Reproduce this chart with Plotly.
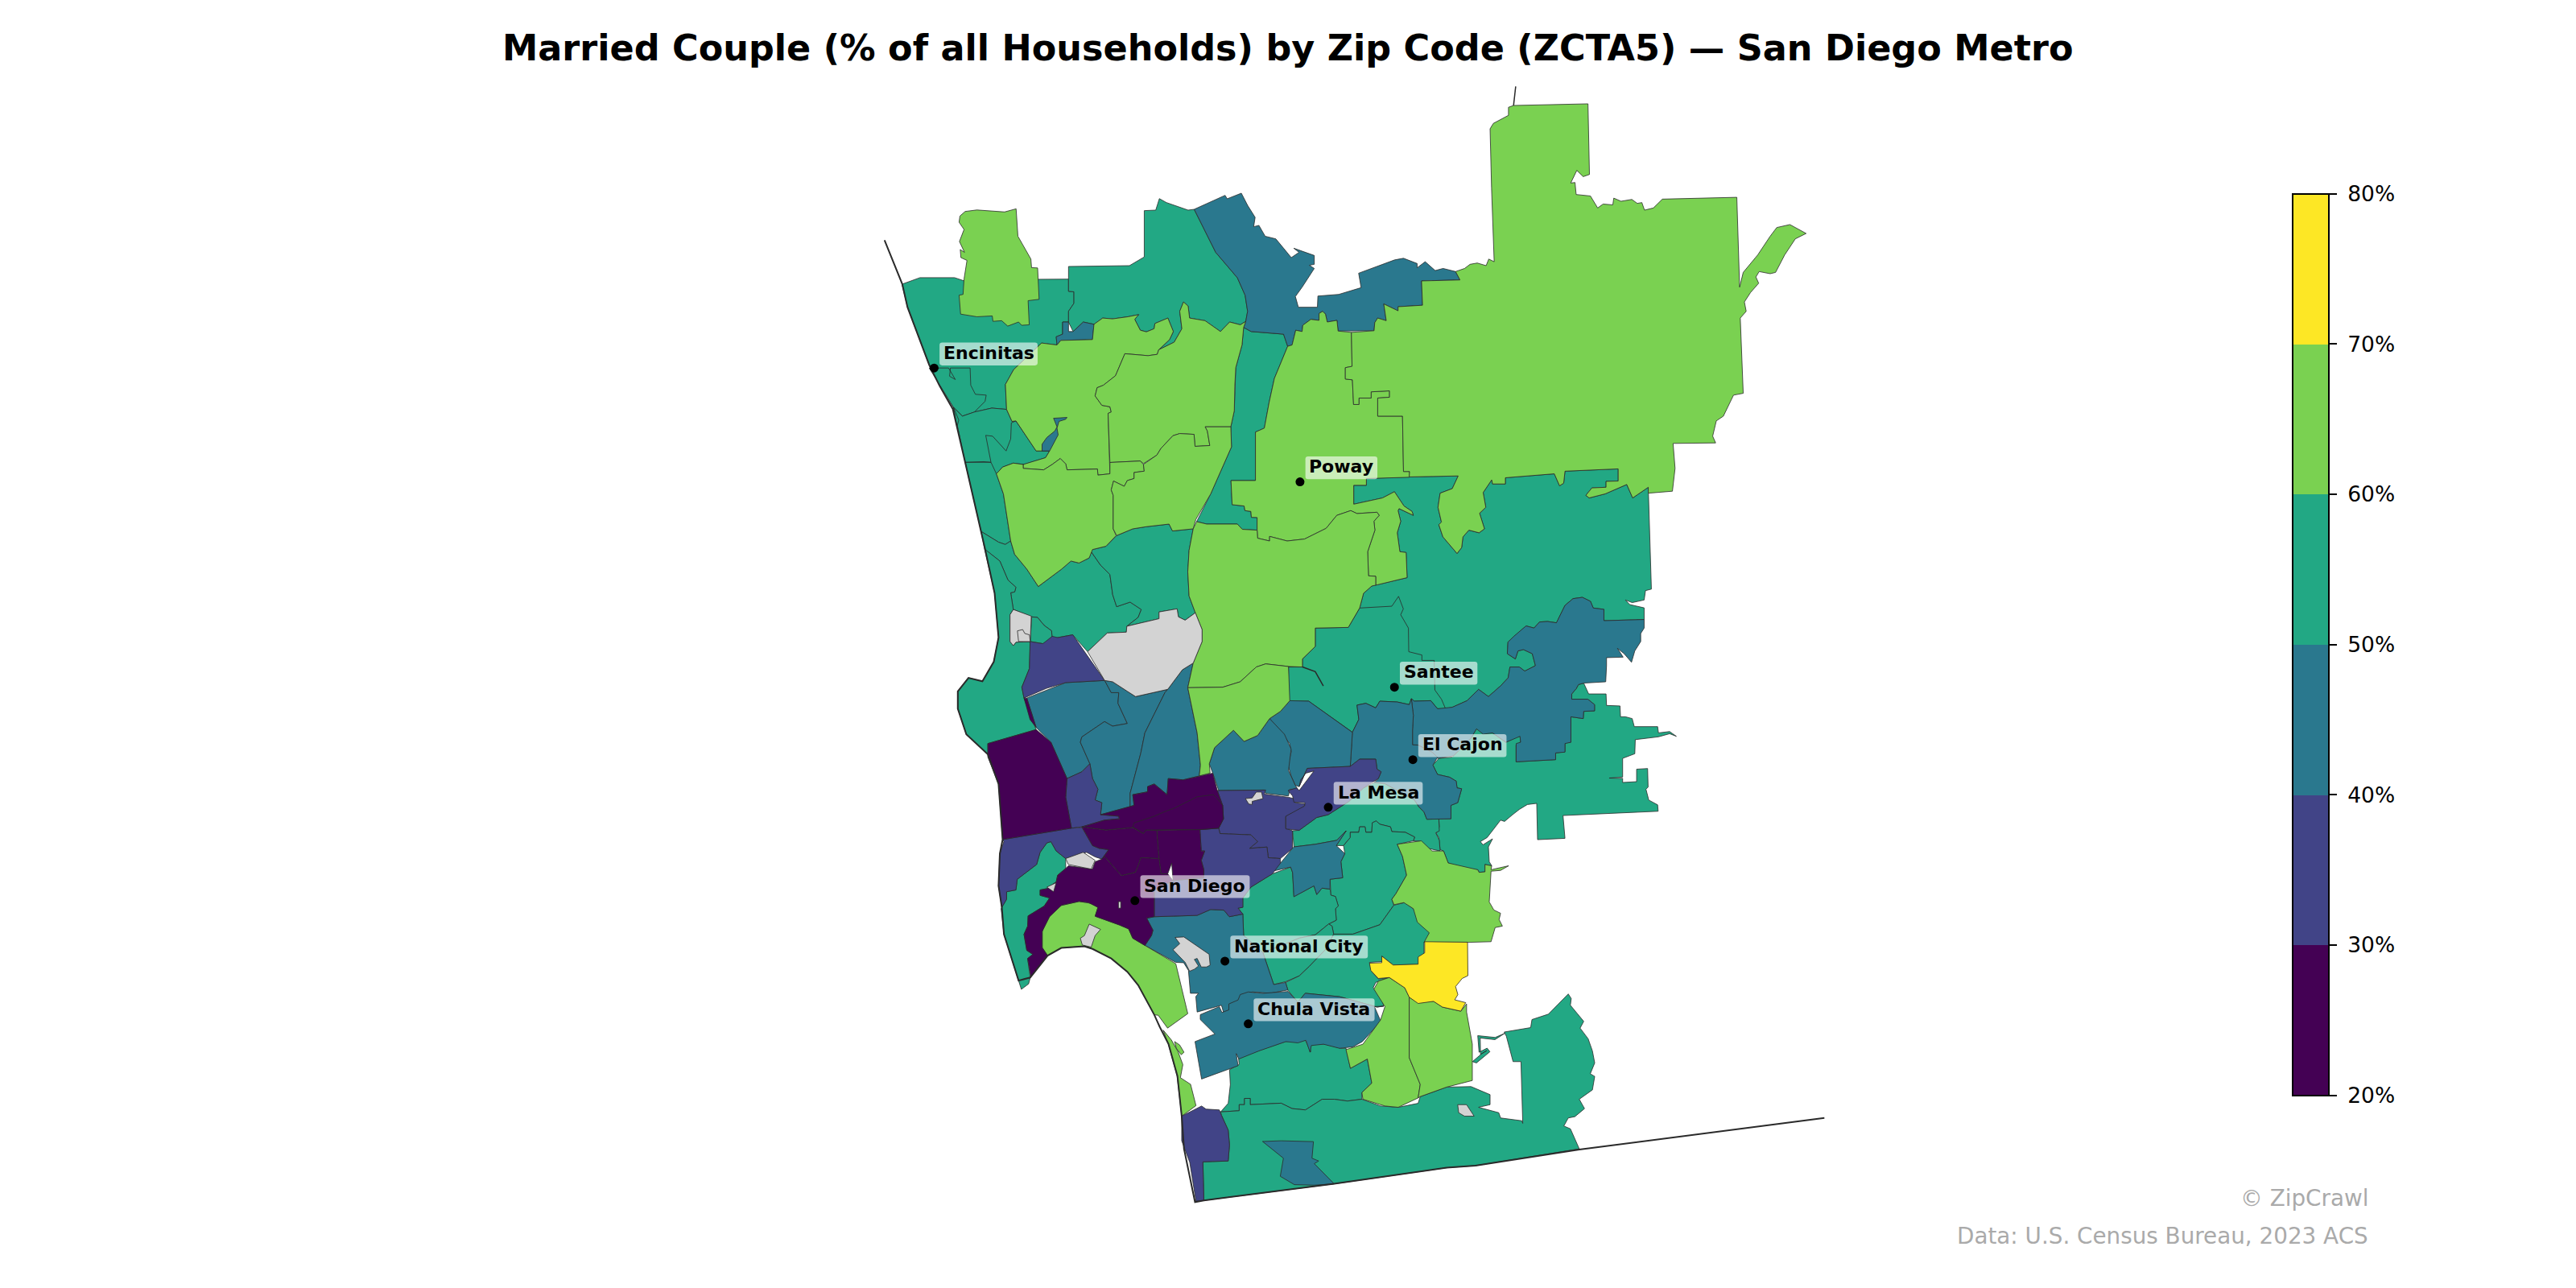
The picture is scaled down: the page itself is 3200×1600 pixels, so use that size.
import plotly.graph_objects as go

# map units: 1568 x 784 picture grid, y grows downward
title = 'Married Couple (% of all Households) by Zip Code (ZCTA5) — San Diego Metro'
credit_lines = ['© ZipCrawl', 'Data: U.S. Census Bureau, 2023 ACS']
tick_values = [20, 30, 40, 50, 60, 70, 80]
bin_colors = ['#440154', '#414487', '#2a788e', '#22a884', '#7ad151', '#fde725']
missing_color = '#d3d3d3'

city_names = ['Encinitas', 'Poway', 'Santee', 'El Cajon', 'La Mesa', 'San Diego', 'National City', 'Chula Vista']
city_x = [568.6, 791.3, 848.8, 860, 808.5, 690.8, 745.6, 759.8]
city_y = [224, 293.3, 418.3, 462.4, 491.4, 548.2, 585, 623.2]
city_label_w = [59.7, 43.8, 47.2, 53.7, 54.2, 66.6, 83.7, 73.6]

coast_line = [(538.4,146.2),(546.8,166.6),(549.2,172.9),(552.4,187),(565.6,222.2),(572,235),(580,249),(587.4,281),(597.2,323.5),(599.6,334.2),(605.4,361),(607.8,388),(604.9,402.8),(598,414.7),(589.5,412.6),(583,420.8),(583,431.4),(588.2,447),(601.3,459.2),(607.8,477.2),(610.3,511),(608.6,519.6),(607.8,539.2),(609.8,552.3),(611.1,568.7),(620,596.9),(627.1,595),(637.7,581.7),(646,577),(660,576),(665,577.6),(676.4,583.4),(686.2,591.5),(692.8,599.7),(702.6,617.7),(705.9,625),(711.3,635.6),(716.7,655),(719.3,679.4),(720.7,699.3),(727.4,731.7),(732.8,730.7),(812.1,720.6),(880.6,710.8),(898.1,709.5),(961.3,699.7),(1110.5,680.5)]
north_spike = [(921.3,64.2),(922.6,52.6)]
stray_line = [(792.8,406),(800.6,408.8),(805.5,417.5)]

north_coast = [(549,173),(560,169),(581,169),(587,171),(632,170),(650.4,169.9),(650.4,177.3),(653.7,177.6),(653.7,184.6),(650.4,189.5),(650.4,196),(646.8,196),(646.8,203.4),(642.9,205),(643.4,210),(634,208.8),(617,225),(612,234),(612.7,249.2),(603.7,248.4),(593.1,250.8),(585.8,253.3),(580.4,248),(565.6,222.2),(552.4,187)]
encinitas = [(565.6,224),(577.4,224),(581.5,231),(578,229),(578.5,224),(590.5,224),(590.9,234.5),(593.7,240),(600.3,240.5),(599.6,244.3),(593.1,250.8),(585.8,253.3),(580.4,248)]
cardiff = [(580.4,248),(585.8,253.3),(593.1,250.8),(603.7,248.4),(612.7,249.2),(616,256.5),(618.4,256.2),(630.7,274.5),(638.9,274.5),(636.4,278.6),(623.3,282.7),(616.8,281.9),(610.3,284.3),(606.5,288.4),(610.8,300.7),(615.2,329.3),(611.9,331.4),(607.8,330),(597.2,323.5),(587.4,281)]
lagoon = [(600,265),(604.2,265.5),(612.4,274.5),(615.2,267.2),(615.6,257.4),(618.4,256.2),(630.7,274.5),(638.9,274.5),(636.4,278.6),(623.3,282.7),(616.8,281.9),(610.3,284.3),(606.5,288.4),(603.2,281.4),(587.4,281.4),(598.8,281),(603.2,281.4)]
beach_sliver = [(580.4,248),(583.6,255.7),(582.5,259.8)]
carmel = [(597.2,323.5),(607.8,330),(611.9,331.4),(615.2,329.3),(617.6,337.4),(625,346.4),(632,357),(646.2,346.4),(651.9,341.5),(656.8,342.7),(663,339.6),(664.2,335.8),(669.9,344),(675.6,349.7),(677.3,362),(679.7,369.3),(687.9,366.5),(694.7,371),(692.8,375.8),(685.9,381.2),(685.6,384.8),(674,385.3),(662,396.7),(653,386.4),(643.8,388.1),(640.5,389.7),(640.1,384),(635.6,380.7),(631.5,375.8),(628.2,375.5),(616.8,371),(615.2,360.8),(617.6,360.3),(618.4,357.5),(613.5,353),(608.6,341.5),(599.3,334.2)]
torrey = [(599.3,334.2),(608.6,341.5),(613.5,353),(618.4,357.5),(617.6,360.3),(615.2,360.8),(616.8,371),(614.8,374.2),(614.8,390.5),(616.8,393),(618.4,390.9),(627.1,390.5),(626.6,406.9),(622,418.3),(623.3,424.9),(630.7,444.1),(601.3,452.6),(601.3,459.2),(588.2,447),(583,431.4),(583,420.8),(589.5,412.6),(598,414.7),(604.9,402.8),(607.8,388),(605.4,361)]
sorrento_bit = [(628,375.5),(631.5,375.8),(635.6,380.7),(640.1,384),(640.5,389.7),(634.8,391.8),(627.1,390.5)]
penasquitos = [(664.2,335.8),(665,334.5),(673.2,332.5),(679.7,326),(689.5,321.9),(697.7,320.6),(711.6,319),(713.7,323.2),(726.3,321.9),(723.8,335),(723,348),(723.8,362.8),(727.6,373),(721.4,377.5),(717.3,375.5),(716.5,370.6),(705.5,372.5),(705.5,376.6),(685.9,381.2),(692.8,375.8),(694.7,371),(687.9,366.5),(679.7,369.3),(677.3,362),(675.6,349.7),(669.9,344)]
pala = [(650.4,162.2),(687.5,161.7),(696.5,156.4),(696.5,128.2),(703.5,127.9),(705.7,120.9),(710,123.3),(723.2,127.9),(726.9,127.4),(740,153.6),(753.2,169.1),(757.9,179.7),(759.4,189.5),(758.3,195.6),(755,197.7),(748.5,196),(742.9,201.8),(733.5,195.2),(724.1,193.6),(723.2,186.3),(720.4,183.8),(718.1,189.5),(719.4,200.1),(714.7,208.3),(705.3,212.9),(711.9,206.7),(714.2,201.8),(711.9,196),(710.9,193.6),(703,196.9),(702.5,200.1),(697.8,202),(694.1,201),(690.7,194.4),(693.1,191.5),(686.6,192.8),(677.2,194.1),(671.2,193.6),(665.9,197.4),(659.4,196),(653.2,201.8),(650.4,196),(650.4,189.5),(653.7,184.6),(653.7,177.6),(650.4,177.3)]
valley_strip = [(757,199.3),(761.6,201.8),(781.3,203.4),(783.8,210.8),(775.7,230.4),(772.5,245),(769.6,260.6),(764.2,263),(764.2,292.5),(749.3,292.5),(750,307.2),(757.3,308),(757.8,310.8),(761.4,311.3),(761.7,314.9),(765.2,315),(765.2,322.7),(756.2,322.2),(753.2,319),(734.5,319),(728.4,317.5),(736.9,300.7),(749.6,272),(749.2,259.8),(751.3,250),(751.6,235.3),(752.2,223.8),(756,210)]
ramona = [(824,295.4),(831.7,295.4),(831.7,291.3),(857.8,290.3),(887.6,289.7),(884,297.4),(876.6,300.2),(875.3,308.8),(877.4,317.8),(875.8,319.4),(878.3,326.8),(886.9,336.9),(889.7,333.3),(890.5,326.8),(894.1,322.7),(900.3,324.3),(903.6,321.9),(900.6,312.4),(904.4,308.8),(902.8,299.8),(908,292.1),(908.5,294.6),(916.3,294.6),(916.3,290.8),(946.1,288.4),(949.3,295.7),(951.8,294.1),(952.6,286.8),(985,285.4),(985,292.8),(977.6,293),(977.6,296.6),(969,297),(965.3,301.5),(967.3,303.1),(977.1,300.6),(990.2,294.9),(993.8,303.1),(1003.3,296.6),(1004.1,323.5),(1005.2,358.6),(1001.6,359.5),(1000.8,365.2),(993.5,366.8),(989.4,365.2),(992,368),(1000.8,370),(1000.8,377.1),(976.3,377.8),(976.3,370.9),(969.8,370.1),(968.1,366),(963.2,363.6),(957.5,364.4),(952.6,368.5),(947.4,379.1),(942,378.3),(937.1,378.6),(933.8,382.3),(928.9,381),(921.6,387.2),(917.9,390.8),(917.5,397.9),(922.4,401.1),(924,396.2),(927.3,395.4),(932.7,397.9),(934.6,405.2),(928.1,408.5),(924.8,406),(919.1,406),(918,412.6),(913.4,417.5),(906,424),(900,419.6),(893,426.5),(884,430.5),(879.9,431.4),(875,431.4),(870.9,426.5),(860.8,426.8),(859.1,425.3),(857.8,428.9),(850.5,427.3),(839.9,426.8),(837.4,430.9),(831.4,428.1),(826,429.2),(827.1,437.9),(823.2,445.7),(796.6,426.8),(784.3,426.8),(784.3,406),(792.8,406),(792.8,401.1),(800.6,393.5),(800.6,382.3),(820.7,381.9),(827.6,370.1),(830,361.1),(835,356.7),(856.5,351.6),(855.9,336.3),(852.1,335.8),(850.5,324.3),(852.6,317.3),(851,310.8),(851.6,309.6),(860.3,313.7),(859.5,311.3),(854.6,308),(848.8,299.3),(841.5,303.1),(824,306.9)]
santee = [(784.3,406),(792.8,406),(792.8,401.1),(800.6,393.5),(800.6,382.3),(820.7,381.9),(827.6,370.1),(847.2,369),(851.3,363),(854.2,370.6),(852.6,374.2),(857.3,382.3),(857.5,396.7),(865.5,398.7),(865.5,402),(873,402),(873.4,420),(877.4,425.6),(879.9,431.4),(875,431.4),(870.9,426.5),(860.8,426.8),(859.1,425.3),(857.8,428.9),(850.5,427.3),(839.9,426.8),(837.4,430.9),(831.4,428.1),(826,429.2),(827.1,437.9),(823.2,445.7),(796.6,426.8),(784.3,426.8)]
alpine_south = [(875.8,461.6),(884,460.8),(895.4,449.3),(898.7,443.7),(908.5,446.1),(916.6,451.8),(923.2,448.5),(925.6,448.1),(925.6,451.8),(922.8,453.5),(922.8,463.7),(946.9,462.4),(946.9,458.4),(952.6,457.5),(952.6,452.3),(956.2,451.8),(956.2,436.3),(963.7,437.4),(964,433),(970.6,432.7),(970.6,428.9),(966.5,425.6),(956.7,425.6),(956.7,422.4),(959.5,419.1),(960.8,416.7),(964,415.8),(967,422.4),(977.6,422.4),(977.9,429.4),(986.1,429.7),(986.4,436.3),(989.4,436.3),(993.5,437.4),(994.8,442.3),(1009,442.3),(1009.5,446.1),(1016.3,445.3),(1020.4,448.2),(1016.3,446.6),(1009.5,448.5),(995.4,450.2),(995.1,458.8),(987.7,461.6),(987.7,473),(979.5,473.6),(987.7,473.8),(987.7,476.3),(996.2,475.8),(996.2,468.2),(1002.9,467.8),(1003.2,479.1),(1001.9,480.4),(1003.6,487),(1009,489.9),(1009.3,493.8),(951.4,496.4),(952.6,510.3),(935.9,511.1),(935.4,489),(929.7,489.7),(924.8,492.7),(920.7,495.9),(915.8,500),(913.4,499.2),(905.2,509.8),(901.1,512.3),(902.7,514.2),(908.5,510.6),(906,515.5),(906.5,524.5),(908,527),(903.9,526.2),(903.9,530.7),(900.3,531),(899.5,529.4),(894.6,529.4),(881.5,525.3),(878.7,518),(876.6,517.2),(875.8,509.8),(874.2,507.4),(876.1,503.3),(875.8,498.4),(883.2,498.4),(883.2,490.2),(887.3,488.6),(889.7,480.1),(886.9,479.6),(886.4,475.5),(882.4,473.1),(875,471.4),(872.2,465.7)]
spring_valley = [(786.8,505.7),(790.8,505.4),(801.5,497.6),(808.5,495.9),(815.4,491.5),(821.1,487.8),(830,479.6),(836.6,476.3),(843,477),(861,487),(863.6,491),(866.8,494.3),(868.5,498.7),(875.8,498.4),(876.1,505.8),(873.9,506.9),(876.1,511.5),(876.6,518),(869.3,516.4),(864.4,512),(860.3,511.8),(861.1,509.5),(855.4,506.6),(847.2,506.2),(846.4,503.3),(839.9,501.7),(837.7,499.7),(835.3,500.8),(835,506.6),(831.4,506.6),(830.9,503.3),(827.6,503.3),(827.1,506.6),(821.9,506.6),(821.9,509.8),(817.8,514.7),(813.4,514.7),(819.4,505.7),(813.7,511.5),(800.6,513.9),(787.6,515.5)]
paradise = [(821.9,509.8),(821.9,506.6),(827.1,506.6),(827.6,503.3),(830.9,503.3),(831.4,506.6),(835,506.6),(835.3,500.8),(837.7,499.7),(839.9,501.7),(846.4,503.3),(847.2,506.2),(855.4,506.6),(861.1,509.5),(860.3,511.8),(850.5,513.9),(853.7,521.3),(856.2,532.7),(849.6,544.1),(847.2,547.4),(848.4,551),(839.9,562.9),(823.5,568.6),(815.4,568.6),(811.8,568.6),(810.8,563.7),(808.8,562.4),(813.4,560.1),(812.9,553.1),(814.6,551.5),(812.9,545.7),(810.1,544.9),(809.6,535.2),(817.3,534.3),(816.2,524.5),(818.6,519.6),(817.8,514.7)]
national_north = [(756.5,546.6),(761.4,540),(774.5,531.9),(785.6,527.8),(786.8,531.1),(787.6,545.8),(799.8,539.2),(801.5,544.5),(804.7,540.6),(809.6,541.2),(810.1,544.9),(812.9,545.7),(814.6,551.5),(812.9,553.1),(813.4,560.1),(808.8,562.4),(800.7,569),(791,571),(768.8,580),(757,569.4),(756.5,556.4),(753.6,552.8),(756.5,552.3)]
bonita_lens = [(768.8,580),(791,571),(800.7,569),(808.8,562.4),(810.8,563.7),(811.8,568.6),(807.2,577.6),(797,588.2),(790.9,594),(782.7,597.5),(775.3,599.3)]
bonita = [(811.8,568.6),(815.4,568.6),(823.5,568.6),(839.9,562.9),(848.4,551),(855.4,549.3),(861.1,553.9),(862.8,558.8),(870.4,568.1),(869.6,573.2),(866.8,573.5),(866.8,580.9),(864,582.5),(863.6,587),(852.1,587.4),(848,587.4),(841.2,582),(841.2,585.3),(833.6,585.8),(835,591.5),(839,595.9),(845.6,594.8),(837.4,598),(835.8,601.3),(839.9,604.6),(842.3,612.4),(838.2,613),(815.4,606.7),(794.5,604.6),(790,610),(784,602.9),(782.5,598),(790.9,594),(797,588.2),(807.2,577.6)]
otay_north = [(748.4,651.1),(754.3,647.9),(753.7,642.1),(754.3,644),(767.7,638.9),(782.5,634),(794.6,633.2),(797.8,640.2),(797.3,635.6),(806.7,635.6),(816.1,638.1),(819.3,638),(822,650.3),(832.3,644.6),(835,659.3),(829,665),(829,669.1),(820.2,670.2),(812.1,669.1),(804.8,669.1),(794.6,675.6),(786.5,674.8),(779.8,671.5),(761,672.4),(761,668.6),(757.5,668.6),(757.5,672.4),(754.3,672.4),(754.3,676.1),(743,676.8),(747.6,671.6),(748.9,660.1)]
otay_south = [(743,676.8),(754.3,676.1),(754.3,672.4),(757.5,672.4),(757.5,668.6),(761,668.6),(761,672.4),(779.8,671.5),(786.5,674.8),(794.6,675.6),(804.8,669.1),(812.1,669.1),(820.2,670.2),(829,669.1),(840.3,673.2),(851.1,674),(863.2,671.6),(864.5,667.5),(880.6,661.7),(895.4,661.4),(907,666.3),(907,672.4),(900,674),(912.3,677.3),(913.4,680.5),(926.3,682.2),(926.9,683.8),(925.8,646.2),(921,646.2),(916.9,630.7),(915.6,628.2),(931.7,625.5),(932.5,620.6),(942.5,617.3),(954.6,605),(956.4,607.8),(955.9,611.9),(959.9,616.8),(964,621.7),(961.8,625.8),(966.7,632.3),(969.3,639.7),(970.7,647),(968,653.6),(970.7,655.2),(969.3,663.4),(961.3,669.1),(964.5,674.8),(958.6,679.7),(954.6,680.5),(951.9,685.4),(955.9,687.1),(961.3,699.3),(898.1,709.5),(880.6,710.8),(812.1,720.6),(732.8,730.7),(732.2,707.2),(747.6,706.7),(748.4,696.9),(747.6,687.9),(743.5,678.9)]
dulzura_thread = [(915.9,629),(910.1,631.5),(899.5,630.4),(900.3,640.5),(905.2,638),(906.9,640.2),(898.7,647),(896.3,646.2),(902,641.3),(905,639.5),(901.2,641.8),(901,631.8),(910,632.8)]

valley_center = [(726.9,127.4),(745.7,118.9),(747,121),(755.6,117.6),(759.4,125),(764,132.3),(763.1,138),(766.3,137.2),(770.1,143.8),(776.6,145.4),(781.3,151.1),(786,156.8),(790.7,153.6),(787.5,151.1),(800,155.5),(800,160.9),(797,161.5),(800,163.4),(792.6,174.8),(788.5,180.5),(790.3,187),(801.9,187),(802.2,180.2),(814.9,179.2),(828.5,175.1),(827,166.3),(848.9,158.2),(854.3,157.2),(862.6,160.4),(862.6,163),(867.5,159.3),(873.6,164.7),(878.4,163.4),(886,165.3),(888.7,170.4),(865.3,171),(865.9,185.8),(851,186.7),(851,189.2),(842.3,185),(843.8,195.2),(838.6,193.6),(836.8,196.4),(836.4,201.3),(814.5,201.5),(813.8,195),(807.9,196),(806.8,191.2),(805.1,189.5),(802.9,190.8),(802.9,195),(797.9,194.4),(793,198),(792.6,201.8),(788.7,201),(786.5,210),(783.8,210.8),(781.3,203.4),(761.6,201.8),(757,199.3),(758.3,195.6),(759.4,189.5),(757.9,179.7),(753.2,169.1),(740,153.6)]
san_luis_bit = [(646.8,196),(650.4,196),(650.4,201.8),(653.2,201.8),(659.4,196),(665.9,197.4),(665,206.7),(645.7,207.2),(643.4,210),(642.9,205),(646.8,203.4)]
lake_bit = [(641.3,254.6),(649.5,254.1),(648.7,255.2),(644.6,256.5),(643.4,260.6),(644.1,264.7),(638.9,274.5),(634.3,274.5),(634.3,270.4),(637.2,266.3),(642.1,262.3),(643.4,259.8)]
alpine = [(976.3,377.8),(1000.8,377.1),(1000.8,382.3),(998.7,385.6),(998.7,390.5),(995.1,396.2),(993.1,403.1),(988.6,397.9),(984.5,394.6),(985,395.4),(988,400),(977.9,400.3),(977.9,405.2),(977.4,415),(964,415.8),(960.8,416.7),(959.5,419.1),(956.7,422.4),(956.7,425.6),(966.5,425.6),(970.6,428.9),(970.6,432.7),(964,433),(963.7,437.4),(956.2,436.3),(956.2,451.8),(952.6,452.6),(952.6,457.8),(946.9,458.3),(946.9,462.4),(922.9,463.7),(922.9,452.6),(925.6,451.8),(925.2,448.2),(919.9,450.2),(916.7,451.8),(908.5,446.1),(902.8,446.9),(898.7,443.6),(895.4,449.3),(884.8,460),(875,461.6),(872,458),(863,453.5),(859.8,453.4),(859.8,444.4),(860.3,435.4),(859.1,425.3),(860.8,426.8),(870.9,426.5),(875,431.4),(884,430.5),(893,426.5),(900,419.6),(906,424),(913.4,417.5),(918,412.6),(919.1,406),(924.8,406),(928.1,408.5),(934.6,405.2),(932.7,397.9),(927.3,395.4),(924,396.2),(922.4,401.1),(917.5,397.9),(917.9,390.8),(921.6,387.2),(928.9,381),(933.8,382.3),(937.1,378.6),(942,378.3),(947.4,379.1),(952.6,368.5),(957.5,364.4),(963.2,363.6),(968.1,366),(969.8,370.1),(976.3,370.9)]
el_cajon = [(859.8,453.4),(863,453.5),(872,458),(875,461),(872.2,465.7),(875,471.4),(882.4,473.1),(886.4,475.5),(886.9,479.6),(889.7,480.1),(887.3,488.6),(883.2,490.2),(883.2,498.4),(868.5,498.7),(866.8,494.3),(863.6,491),(861,487),(843,477),(836.6,476.3),(839,473.9),(840.7,469.8),(838.2,468.2),(837.4,462.1),(827.6,462.1),(821.9,466.5),(823.2,445.8),(827.1,437.9),(826,429.2),(831.4,428.1),(837.4,430.9),(839.9,426.8),(850.5,427.3),(857.8,428.9),(859.1,425.3),(860.3,435.4),(859.8,444.4)]
clairemont_n = [(625,424.9),(648.7,415.5),(672.4,414.2),(676.4,421.6),(681,421.6),(680.5,428.1),(686.2,440.4),(677.2,442),(672.3,439.2),(658.5,448.6),(657.6,451.8),(663.4,464.9),(658.5,469.8),(649.5,473.9),(639.7,451.8),(630.7,442.8)]
kearny = [(672.4,414.2),(677.3,415),(686.2,420.8),(691.2,424),(710.8,419.6),(709.1,421.6),(696.9,446.1),(694.4,458.4),(687.9,482.9),(687.9,491),(669.9,495.9),(670.7,488.6),(666.6,487),(668.3,480.4),(665,473.9),(663.4,464.9),(657.6,451.8),(658.5,448.6),(672.3,439.2),(677.2,442),(686.2,440.4),(680.5,428.1),(681,421.6),(676.4,421.6)]
serra_mesa = [(710.8,419.6),(719.7,407.7),(726.3,403.6),(723,418.6),(728.7,446.1),(730.7,465.7),(730,472.3),(720.2,474.7),(711.1,473.9),(710.4,483.7),(702.6,477.2),(698.5,478.8),(698.5,482),(689.5,483.7),(690.3,490.2),(687.9,491),(687.9,482.9),(694.4,458.4),(696.9,446.1),(709.1,421.6)]
del_cerro = [(785.1,426.5),(796.6,426.8),(823.2,445.8),(821.9,466.5),(795.7,467.7),(790.8,478.8),(788.4,478),(785.9,472.3),(784,465.7),(786,457.5),(785,452.6),(778.6,444.5),(772.8,437.4),(779.4,433)]
san_carlos = [(736.1,464.9),(739.3,455.1),(750.8,444.5),(757.3,451.3),(765.5,447.7),(772.8,437.4),(781.8,446.9),(785.9,455.9),(784.3,469),(788.4,478),(790,480.4),(785.1,480.4),(784.3,484.5),(770.4,482.9),(769.6,480.9),(741.8,481.2),(738.2,470.6)]
lemon_grove = [(787.6,515.5),(800.6,513.9),(813.7,511.5),(819.4,505.7),(813.4,514.7),(818.6,519.6),(816.2,524.5),(817.3,534.3),(809.6,535.2),(809.6,541.2),(804.7,540.6),(801.5,544.5),(799.8,539.2),(787.6,545.8),(786.8,531.1),(785.6,527.8),(774.5,530.3),(779.4,525.4),(786.7,516.4)]
national_city = [(698,558.9),(702.6,558),(728.7,557.2),(736.9,553.6),(745,554),(748.3,558),(756.5,556.4),(757,569.4),(768.8,580),(775.3,599.3),(782.5,598),(783.9,602.6),(773.1,604.6),(762.4,603.8),(755.6,605.4),(754.3,609.5),(748.9,611.1),(748.9,615.2),(744.9,616.8),(743.5,611.9),(728.7,616),(727.9,606.6),(729.5,604.6),(724.6,604.6),(723.4,590.7),(720.5,586),(715.7,585.8),(696.9,575.5),(700.9,569.5),(701.8,566.2)]
chula_vista = [(730.6,617.6),(742.2,612.7),(743.8,616.3),(748,614.7),(748,611.1),(753.6,608.7),(754.9,605.4),(759.8,603.8),(768.8,604.6),(784,603.5),(790,610),(794.5,604.6),(815.4,606.7),(838.2,613),(842.3,612.4),(836.6,612.7),(840.5,621.7),(829.3,634),(823.5,637.2),(815.4,638.1),(805.6,635.6),(798.2,636.4),(797.4,640.5),(794.9,633.2),(790,634.8),(782.7,634),(766.3,639.7),(754.1,644.6),(752.5,641.3),(753.6,648.7),(731.4,656.8),(727.4,634),(739.5,629.4),(730.6,620.6)]
san_ysidro_bit = [(768.5,694.8),(779.8,694.4),(799.5,694.9),(798.6,705),(802.7,706.7),(800,708.3),(812.1,720.6),(800,721.4),(787.9,721.1),(779.3,716),(781.2,705)]

fallbrook = [(587.5,128.7),(594.6,127.8),(611.5,129),(618.5,127.1),(619.6,143.8),(623.7,151.1),(627.5,157.7),(627.9,162.9),(631.6,163.1),(632.5,182.2),(625.8,183),(626.5,197.7),(621.9,198),(620,196),(613.4,198.5),(609.7,195.2),(604.4,195.6),(604,192.3),(594.6,192.8),(584.7,191.2),(583.8,179.7),(586.2,179.2),(586.8,169.9),(588.6,158.5),(584.9,156.8),(584.5,151.9),(587.1,153.6),(584,147),(586.8,139.7),(583.8,135.3),(584.3,131.5)]
san_marcos = [(612,234),(617,225),(634,208.8),(643.4,210),(645.7,207.2),(665,206.7),(665.9,197.4),(671.2,193.6),(677.2,194.1),(686.6,192.8),(693.1,191.5),(690.7,194.4),(694.1,201),(697.8,202),(702.5,200.1),(703,196.9),(710.9,193.6),(711.9,196),(714.2,201.8),(711.9,206.7),(705.3,212.9),(704.4,215.7),(698.8,216.5),(684.7,215.3),(679,228.7),(671.6,234.5),(667.8,236),(666.6,241),(670.7,246.7),(675.6,247.6),(676.4,250.8),(674.5,251.6),(675.6,288.4),(668.3,289.2),(668,285.5),(649.5,286),(648.7,282.4),(645.4,279.1),(640.5,282.7),(635.3,286),(622.8,285.1),(622.8,282.7),(636.4,278.6),(638.9,274.5),(630.7,274.5),(618.4,256.2),(616,256.5),(612.7,249.2)]
escondido = [(684.7,215.3),(698.8,216.5),(704.4,215.7),(705.3,212.9),(714.7,208.3),(719.4,200.1),(718.1,189.5),(720.4,183.8),(723.2,186.3),(724.1,193.6),(733.5,195.2),(742.9,201.8),(748.5,196),(755,197.7),(758.3,195.6),(757,199.3),(756,210),(752.2,223.8),(751.6,235.3),(751.3,250),(749.2,259.8),(733.6,259.8),(734.9,262.3),(736.4,271.2),(727.4,271.7),(726.8,264.4),(718.1,263.9),(714,265.2),(706.7,272.9),(704.2,277),(696,282.2),(694.1,280.6),(675.6,281.5),(674.5,251.6),(676.4,250.8),(675.6,247.6),(670.7,246.7),(666.6,241),(667.8,236),(671.6,234.5),(679,228.7)]
rancho_santa_fe = [(606.5,288.4),(610.3,284.3),(616.8,281.9),(622.8,282.7),(622.8,285.1),(635.3,286),(640.5,282.7),(645.4,279.1),(648.7,282.4),(649.5,286),(668,285.5),(668.3,289.2),(675.6,288.4),(675.6,281.5),(694.1,280.6),(696,282.7),(696.5,286.8),(690.3,287.6),(690.3,291.3),(686.2,292.5),(684.3,296),(677.8,292.8),(676.4,298.2),(677.6,301.5),(677.6,321.9),(679.4,326),(673.2,332.5),(665,334.5),(663,339.6),(656.8,342.7),(651.9,341.5),(646.2,346.4),(632,357),(625,346.4),(617.6,337.4),(615.2,329.3),(610.8,300.7)]
bernardo = [(677.6,321.9),(677.6,301.5),(676.4,298.2),(677.8,292.8),(684.3,296),(686.2,292.5),(690.3,291.3),(690.3,287.6),(696.5,286.8),(696,282.7),(704.2,277),(706.7,272.9),(714,265.2),(718.1,263.9),(726.8,264.4),(727.4,271.7),(736.4,271.2),(734.9,262.3),(733.6,259.8),(749.2,259.8),(749.6,272),(736.9,300.7),(727.9,316.2),(726.3,321.9),(713.7,323.2),(711.6,319),(697.7,320.6),(689.5,321.9),(679.7,326)]
poway = [(783.8,210.8),(786.5,210),(788.7,201),(792.6,201.8),(793,198),(797.9,194.4),(802.9,195),(802.9,190.8),(805.1,189.5),(806.8,191.2),(807.9,196),(813.8,195),(814.5,201.5),(822.6,202.3),(823,223),(818.9,223.8),(818.9,230.7),(823.2,231.2),(823.9,246.2),(827.2,246.2),(827.2,242.3),(834.6,242.3),(834.6,238.5),(845.8,237.9),(845.8,241.8),(838.6,242.3),(838.6,253.3),(853.7,253.3),(854.3,287),(858,287),(858,290.5),(831.7,291.3),(831.7,295.4),(824,295.4),(824,306.9),(841.5,303.1),(848.8,299.3),(854.6,308),(859.5,311.3),(860.3,313.7),(851.6,309.6),(851,310.8),(852.6,317.3),(850.5,324.3),(852.1,335.8),(855.9,336.3),(856.5,351.6),(837.4,356.2),(837.4,350.8),(833,350.5),(832.5,335.8),(833.3,333.3),(836.9,322.7),(836.3,317.3),(839.5,313.7),(838.2,311.8),(826,312.6),(822.2,310.8),(813.7,313.7),(807.2,321.6),(794.1,328.1),(783.5,329.3),(772.8,326.5),(772.8,329.3),(765.5,327.6),(765.2,322.7),(765.2,315),(761.7,314.9),(761.4,311.3),(757.8,310.8),(757.3,308),(750,307.2),(749.3,292.5),(764.2,292.5),(764.2,263),(769.6,260.6),(772.5,245),(775.7,230.4)]
miramar_east = [(726.3,321.9),(728.4,317.5),(734.5,319),(753.2,319),(756.2,322.2),(765.2,322.7),(765.5,327.6),(772.8,329.3),(772.8,326.5),(783.5,329.3),(794.1,328.1),(807.2,321.6),(813.7,313.7),(822.2,310.8),(826,312.6),(838.2,311.8),(839.5,313.7),(836.3,317.3),(836.9,322.7),(833.3,333.3),(832.5,335.8),(833,350.5),(837.4,350.8),(837.4,356.2),(835,356.7),(830,361.1),(827.6,370.1),(820.7,381.9),(800.6,382.3),(800.6,393.5),(792.8,401.1),(792.8,406),(784.3,405.7),(770.4,404.1),(764.7,406),(754.9,415),(744.3,418.3),(723,418.6),(726.3,403.6),(731.7,390.5),(731.7,383.2),(727.6,373),(723.8,362.8),(723,348),(723.8,335)]
tierrasanta = [(723,418.6),(744.3,418.3),(754.9,415),(764.7,406),(770.4,404.1),(784.3,405.7),(785.1,426.5),(779.4,433),(772.8,437.4),(765.5,447.7),(757.3,451.3),(750.8,444.5),(739.3,455.1),(736.1,464.9),(736.6,470.6),(730,472.3),(730.7,465.7),(728.7,446.1)]
back_country = [(822.6,202.3),(836.4,201.3),(836.8,196.4),(838.6,193.6),(843.8,195.2),(842.3,185),(851,189.2),(851,186.7),(865.9,185.8),(865.3,171),(888.7,170.4),(886,165.3),(891.5,163.4),(894.8,160.9),(899.2,160.1),(904.6,161.7),(906.2,157.7),(909.5,159.3),(907.9,114.4),(907,78.4),(909,75.1),(918.2,70.2),(918.2,65.3),(921.3,64.2),(966.6,63.2),(967.5,106.2),(963.7,107.5),(959.8,103.7),(956.1,111.4),(958.7,111.1),(959.4,118.4),(968.1,119.3),(972.5,126.6),(975.8,124.2),(981.7,124.7),(982.3,120.6),(986.7,122.5),(993.3,121.4),(996.6,123.8),(999.4,123.3),(1001,127.9),(1006.4,126.6),(1011.9,121.2),(1057.2,120.1),(1058.9,174.8),(1061.1,165.8),(1069.9,155.2),(1077.5,143.8),(1081.5,138.5),(1089.5,136.7),(1099.4,142.1),(1092.8,145.4),(1086.3,155.2),(1080.8,165.8),(1077.5,166.6),(1070.8,165.3),(1068.8,168.6),(1070.5,172.4),(1065.5,178.1),(1061.8,183.8),(1062.9,189.5),(1059.3,193.6),(1061.1,239.4),(1055.2,240.5),(1049,253.3),(1044.7,256.2),(1042.5,265.5),(1044.3,269.6),(1018.4,269.9),(1019.6,285.1),(1018,299),(1003.3,300.2),(1003.3,296.6),(993.8,303.1),(990.2,294.9),(977.1,300.6),(967.3,303.1),(965.3,301.5),(969,297),(977.6,296.6),(977.6,293),(985,292.8),(985,285.4),(952.6,286.8),(951.8,294.1),(949.3,295.7),(946.1,288.4),(916.3,290.8),(916.3,294.6),(908.5,294.6),(908,292.1),(902.8,299.8),(904.4,308.8),(900.6,312.4),(903.6,321.9),(900.3,324.3),(894.1,322.7),(890.5,326.8),(889.7,333.3),(886.9,336.9),(878.3,326.8),(875.8,319.4),(877.4,317.8),(875.3,308.8),(876.6,300.2),(884,297.4),(887.6,289.7),(857.8,290.3),(858,287),(854.3,287),(853.7,253.3),(838.6,253.3),(838.6,242.3),(845.8,241.8),(845.8,237.9),(834.6,238.5),(834.6,242.3),(827.2,242.3),(827.2,246.2),(823.9,246.2),(823.2,231.2),(818.9,230.7),(818.9,223.8),(823,223)]
jamul = [(850.5,513.9),(865.2,511.8),(871.7,518),(878.7,518),(881.5,525.3),(899.5,529.4),(900.3,531),(903.9,530.7),(903.9,526.2),(908,527),(907.6,529.4),(918.3,527),(913.4,529.8),(907.6,530.3),(906.5,549),(909.3,553.9),(913.4,555.9),(912.5,559.7),(914.5,563.7),(910.1,564.6),(907.6,573.2),(893.8,573.6),(866.8,573.6),(870,567.8),(862.7,561.3),(860.3,553.1),(854.5,549.4),(848.5,550.7),(847.2,547.4),(849.6,544.1),(856.2,532.7),(853.7,521.3)]
otay_lakes_w = [(845.7,595),(855.1,601.3),(857.8,607),(857.8,643.8),(864.5,660.1),(863.2,668.3),(851.1,674),(843,673.2),(829.6,669.1),(829,665),(835,659.3),(832.3,644.6),(822,650.3),(819.3,638.9),(829.6,635.6),(840.3,620.9),(843,612.7),(836.3,602.1),(839,597.2)]
otay_lakes_e = [(857.8,607),(863.2,610.3),(872.6,609.5),(878,613),(889.2,615.5),(892.7,611.1),(892.7,616),(896.2,635.6),(896.2,657.7),(880.6,661.7),(864.5,667.5),(863.2,668.3),(864.5,660.1),(857.8,643.8)]
coronado = [(636.4,559.7),(644.6,551.5),(656.8,548.7),(664.2,549.9),(668.3,552.3),(666.6,557.7),(681.3,563),(687,565.4),(689.5,571.1),(696.9,575.5),(715.7,586.6),(723,617),(710.7,625.8),(705,618),(702.6,617.7),(692.8,599.7),(686.2,591.5),(676.4,583.4),(665,577.6),(660,576),(646,577),(637.7,581.7),(634.4,576.8),(634.4,567)]
strand_south = [(708,627),(713,633),(717,640),(720,648),(718.5,656),(724.7,660),(728,673),(719.3,679.4),(716.5,655),(711.3,636)]
strand_marsh = [(715,634),(718,636),(720.7,640.5),(719,642),(716,638)]

purple_mira = [(627,390.5),(634.8,391.8),(640.5,387.3),(643.8,388.1),(653,386.4),(672.4,414.2),(648.7,415.5),(637,419),(623.3,424.9),(622,418.3),(626.6,406.9)]
bay_ho = [(649.5,473.9),(658.5,469.8),(663.4,464.9),(665,473.9),(668.3,480.4),(666.6,487),(670.7,488.6),(669.9,495.9),(681,496.8),(681.3,498.4),(672.3,499.2),(658.5,503.3),(652.2,504.1),(648.7,485.3)]
ocean_beach = [(610.3,511),(631,507.7),(652.2,504.1),(658.5,503.6),(665,514.7),(669.1,516.4),(674.8,517.2),(670.7,522.9),(666.6,521.6),(661.4,518.8),(648.7,522.6),(642.9,518),(639.7,512.3),(637.2,513.1),(633.1,518.8),(631,526.2),(619.2,535.2),(618.4,541.7),(612.7,542.8),(612.7,547.4),(609.8,552.3),(607.8,539.2),(608.6,519.6),(611,512.3)]
city_heights = [(702.6,542),(714,536),(732.8,534.3),(732.8,529.4),(731.2,523.7),(733.3,518),(731.2,518),(730.4,505),(741.8,504.1),(742.6,507.4),(761.4,508.2),(765.5,512.3),(760.6,516.4),(771.2,515.6),(772,522.1),(779.4,522.6),(779.4,525.4),(774.5,531.9),(761.4,540),(756.5,546.6),(756.5,552.3),(753.6,552.8),(756.5,556.4),(748.3,558),(745,554),(736.9,553.6),(728.7,557.2),(702.6,558)]
college_area = [(741.8,504.1),(744.7,498.4),(744.2,490.2),(741,481.2),(770.4,480.9),(769.6,483.4),(784.3,485.3),(787.5,486.1),(788.4,488.6),(794.4,489.4),(793.3,491.9),(782.6,497.1),(782.6,504.1),(786.7,505.7),(786.7,516.4),(779.4,522.6),(772,522.1),(771.2,515.6),(760.6,516.4),(765.5,512.3),(761.4,508.2),(742.6,507.4)]
la_mesa = [(795.7,467.7),(821.9,466.5),(827.6,462.1),(837.4,462.1),(838.2,468.2),(840.7,469.8),(839,473.9),(830,479.6),(821.1,487.8),(815.4,491.5),(808.5,495.9),(801.5,497.6),(790.8,505.4),(782.7,504.6),(782.7,496.8),(794.1,490.6),(794.4,488.6),(787.6,488.3),(786.8,484.5),(784,481.2),(789.2,479.6),(790.8,481.2),(799.8,469.3),(794.9,470.6),(791.7,474.7),(790.8,478.8)]
imperial_beach = [(719.3,679.4),(731.4,673.2),(734.1,675.1),(742.2,675.6),(743.5,678.9),(747.6,687.9),(748.4,696.9),(747.6,706.7),(732.2,707.2),(732.8,730.7),(728,731.2),(724.2,707.5),(719.3,694.4)]

pacific_beach = [(601.3,452.6),(630.7,444.1),(639.7,451.8),(649.5,473.9),(648.7,485.3),(652.2,504.1),(610.3,511),(607.8,477.2),(601.3,460.8)]
rose_sliver = [(623.3,424.9),(625,424.9),(630.7,442.8),(627,438)]
linda_vista = [(669.9,495.9),(687.9,491),(690.3,490.2),(689.5,483.7),(698.5,482),(698.5,478.8),(702.6,477.2),(710.4,483.7),(711.1,473.9),(720.2,474.7),(738.2,470.6),(741,481.2),(744.2,490.2),(744.7,498.4),(741.8,504.1),(730.4,505),(720.9,505),(704.2,505.4),(697.4,505.3),(696,507.4),(689.5,503.8),(673.2,505.3),(658.5,503.3),(672.3,499.2),(681.3,498.4),(681,496.8)]
mission_valley = [(689.5,503.3),(690.3,500.9),(702.6,496.8),(708.3,494.3),(714.8,491.9),(728.7,485),(738.5,483.7),(741,486.1),(744.2,490.2),(744.7,498.4),(741.8,504.1),(730.4,505),(720.9,505),(704.2,505.4),(697.4,505.3),(696,507.4)]
hillcrest = [(658.5,503.3),(673.2,505.3),(689.5,503.8),(696,507.4),(697.4,505.3),(704.2,505.4),(705.5,522.6),(694.4,522.1),(692.8,527),(691.1,531),(682.6,533),(672.3,521.3),(670.7,522.9),(674.8,517.2),(669.1,516.4),(665,514.7)]
north_park = [(704.2,505.4),(720.9,505),(730.4,505),(731.2,518),(733.3,518),(731.2,523.7),(732.8,529.4),(732.8,534.3),(714,536),(713.2,525.4),(710.8,531.9),(706.7,531.9),(705.5,522.6)]
downtown = [(648.7,528.6),(650.3,527),(665,529),(666.6,524.5),(670.7,522.9),(672.3,521.3),(682.6,533),(691.1,531),(692.8,527),(694.4,522.1),(705.5,522.6),(706.7,531.9),(710.8,531.9),(714,536),(702.6,542),(702.6,558),(698,558.9),(701.8,566.2),(700.9,569.5),(696.9,575.5),(689.5,571.1),(687,565.4),(681.3,563),(666.6,557.7),(668.3,552.3),(662.5,549.4),(656.8,548.7),(646.2,551),(638.9,558),(634.4,567),(634.4,576.8),(637.7,581.7),(627.4,594.5),(625.5,583.4),(628.7,580.9),(625,578.5),(623.3,568.7),(625.5,563.8),(625.8,557.5),(635.6,551.5),(638.9,546.6),(633.1,545),(633.1,541.7),(637.2,540.9),(642.9,536.8),(643.8,532.7)]
point_loma = [(609.4,553.1),(612.7,547.4),(612.7,542.8),(618.4,541.7),(619.2,535.2),(631,526.2),(633.1,518.8),(637.2,513.1),(639.7,512.3),(642.9,518),(648.7,522.6),(648.7,528.6),(643.8,532.7),(642.9,536.8),(637.2,540.9),(633.1,541.7),(633.1,545),(638.9,546.6),(635.6,551.5),(625.8,557.5),(625.5,563.8),(623.3,568.7),(625,578.5),(628.7,580.9),(625.5,583.4),(627.1,595.1),(626.1,598.9),(621.7,602.2),(620,596.9),(611.1,568.7)]

bonita_yellow = [(867.2,573.2),(893.3,573.5),(893.5,593.9),(890,595.6),(886,600.5),(887.4,605.4),(885.5,608.6),(892.2,610.3),(889.2,615.5),(878,613),(872.6,609.5),(863.2,610.8),(857.8,607),(855.1,601.3),(845.7,595),(839,595.6),(834.4,590.7),(833.6,586.3),(841.1,586),(841.1,582),(848,587.4),(863.2,586.9),(863.2,582.5),(867.2,580)]

miramar_gray = [(662,396.7),(674,385.3),(685.6,384.8),(685.9,381.2),(705.5,376.6),(705.5,372.5),(716.5,370.6),(717.3,375.5),(721.4,377.5),(727.6,373),(731.7,383.2),(731.7,390.5),(726.3,403.6),(719.7,407.7),(710.8,419.6),(691.2,424),(686.2,420.8),(677.3,415),(672.4,414.2)]
del_mar_gray = [(616.8,371),(627.7,375),(627.1,390.5),(618.4,390.9),(616.8,393),(614.8,390.5),(614.8,374.2)]
del_mar_inner = [(619.3,384),(622.5,383.2),(623.8,385.6),(626.6,386.4),(627.1,390.5),(620,390.5)]
harbor_gray = [(648.7,522.6),(659.3,518.8),(666.6,523.7),(664.2,529),(650.3,526.2)]
mission_bay_gray = [(637.2,540),(642.9,537.3),(641.3,542.8)]
naval_gray = [(663,562.5),(669.9,565.7),(666.6,569.5),(664.2,576.5),(658.8,575.2),(657.6,571.1),(660.1,569.5)]
port_gray = [(715.3,570.6),(720.6,570.3),(736,580.9),(736.6,587.5),(734.4,588.6),(731.2,588.6),(728.7,583.4),(727,584),(729.5,588),(727.1,589.9),(724.1,591.2),(721.4,585.8),(714,578.1),(718.1,574.4)]
college_gray = [(758.1,486.1),(762.2,485.7),(764.7,482.1),(767.9,482.1),(768.8,486.1),(762.2,487.8),(762.2,489.7),(760.1,489.4)]
otay_gray = [(887.3,672.4),(892.7,672.4),(897.3,679.4),(891.4,679.4),(887.9,677.3)]
balboa_gray = [(680.8,548.8),(682.2,548.8),(682.2,552.8),(680.8,552.8)]

# every region with the share (middle of the band)
regions = [
    (north_coast, 55), (encinitas, 55), (cardiff, 55), (lagoon, 55), (beach_sliver, 55),
    (carmel, 55), (torrey, 55), (sorrento_bit, 55), (penasquitos, 55), (pala, 55),
    (valley_strip, 55), (ramona, 55), (santee, 55), (alpine_south, 55), (spring_valley, 55),
    (paradise, 55), (national_north, 55), (bonita_lens, 55), (bonita, 55), (otay_north, 55),
    (otay_south, 55), (dulzura_thread, 55), (point_loma, 55),
    (valley_center, 45), (san_luis_bit, 45), (alpine, 45), (el_cajon, 45), (clairemont_n, 45),
    (kearny, 45), (serra_mesa, 45), (del_cerro, 45), (san_carlos, 45), (lemon_grove, 45),
    (national_city, 45), (chula_vista, 45), (san_ysidro_bit, 45),
    (fallbrook, 65), (san_marcos, 65), (escondido, 65), (rancho_santa_fe, 65), (bernardo, 65),
    (poway, 65), (miramar_east, 65), (tierrasanta, 65), (back_country, 65), (jamul, 65),
    (otay_lakes_w, 65), (otay_lakes_e, 65), (coronado, 65), (strand_south, 65), (strand_marsh, 65),
    (lake_bit, 45),
    (purple_mira, 35), (bay_ho, 35), (ocean_beach, 35), (college_area, 35), (city_heights, 35),
    (la_mesa, 35), (imperial_beach, 35),
    (pacific_beach, 25), (rose_sliver, 25), (linda_vista, 25), (mission_valley, 25),
    (hillcrest, 25), (north_park, 25), (downtown, 25),
    (bonita_yellow, 75),
    (miramar_gray, None), (del_mar_gray, None), (del_mar_inner, None), (harbor_gray, None),
    (mission_bay_gray, None), (naval_gray, None), (port_gray, None), (college_gray, None),
    (otay_gray, None), (balboa_gray, None),
]


def band_color(value):
    if value is None:
        return missing_color
    return bin_colors[int((value - tick_values[0]) // 10)]


def closed(points):
    xs = [p[0] for p in points] + [points[0][0]]
    ys = [p[1] for p in points] + [points[0][1]]
    return xs, ys


fig = go.Figure()

for points, value in regions:
    xs, ys = closed(points)
    fig.add_trace(go.Scatter(x=xs, y=ys, mode='lines', fill='toself', fillcolor=band_color(value),
                             line=dict(color='#2a2a2a', width=0.8), hoverinfo='skip', showlegend=False))

for line_points, line_width in [(coast_line, 2), (north_spike, 1.5), (stray_line, 1.5)]:
    fig.add_trace(go.Scatter(x=[p[0] for p in line_points], y=[p[1] for p in line_points], mode='lines',
                             line=dict(color='#2a2a2a', width=line_width), hoverinfo='skip', showlegend=False))

# stepped scale so the colorbar shows the same six bands as the map
stepped = []
for i, c in enumerate(bin_colors):
    stepped.append([i / len(bin_colors), c])
    stepped.append([(i + 1) / len(bin_colors), c])

fig.add_trace(go.Scatter(
    x=[None], y=[None], mode='markers', showlegend=False, hoverinfo='skip',
    marker=dict(color=[50], cmin=tick_values[0], cmax=tick_values[-1], colorscale=stepped, showscale=True,
                colorbar=dict(x=2848 / 3200, xanchor='left', xpad=0, y=0.4995, yanchor='middle', ypad=0,
                              len=1120 / 1600, lenmode='fraction', thickness=45, thicknessmode='pixels',
                              outlinecolor='black', outlinewidth=2, tickmode='array', tickvals=tick_values,
                              ticktext=[f'\u00a0{v}%' for v in tick_values], ticks='outside', ticklen=9, tickwidth=2,
                              tickcolor='black', tickfont=dict(family='DejaVu Sans', size=26.5, color='black')))))

# rounded label plates sit above the map, dots above the plates
shapes = []
for x, y, w in zip(city_x, city_y, city_label_w):
    x0, x1, y1, y0 = x + 3.3, x + 3.3 + w, y - 1.6, y - 15.5
    r = 1.6
    path = (f'M {x0+r} {y0} L {x1-r} {y0} Q {x1} {y0} {x1} {y0+r} L {x1} {y1-r} Q {x1} {y1} {x1-r} {y1} '
            f'L {x0+r} {y1} Q {x0} {y1} {x0} {y1-r} L {x0} {y0+r} Q {x0} {y0} {x0+r} {y0} Z')
    shapes.append(dict(type='path', path=path, xref='x', yref='y', layer='above',
                       fillcolor='rgba(255,255,255,0.6)', line=dict(width=0)))

annotations = [dict(x=x + 3.3 + w / 2, y=y - 9.2, xref='x', yref='y', text=name, showarrow=False,
                    xanchor='center', yanchor='middle',
                    font=dict(family='DejaVu Sans', size=22, color='black', weight='bold'))
               for name, x, y, w in zip(city_names, city_x, city_y, city_label_w)]

fig.add_trace(go.Scatter(x=city_x, y=city_y, mode='markers', marker=dict(color='black', size=11),
                         hoverinfo='skip', showlegend=False))

annotations.append(dict(x=784, y=29, xref='x', yref='y', text=title, showarrow=False, xanchor='center',
                        yanchor='middle', font=dict(family='DejaVu Sans', size=44.5, color='black', weight='bold')))
for text, y in zip(credit_lines, [729.5, 752.5]):
    annotations.append(dict(x=1442.7, y=y, xref='x', yref='y', text=text, showarrow=False, xanchor='right',
                            yanchor='middle', font=dict(family='DejaVu Sans', size=27.8, color='#aaaaaa')))

fig.update_layout(
    width=3200, height=1600, margin=dict(l=0, r=0, t=0, b=0), paper_bgcolor='white', plot_bgcolor='white',
    xaxis=dict(range=[0, 1568], visible=False, fixedrange=True),
    yaxis=dict(range=[784, 0], visible=False, fixedrange=True),
    shapes=shapes, annotations=annotations, showlegend=False,
)

fig.write_html("out.html", config={'displayModeBar': False}, post_script="document.body.style.margin='0';")
